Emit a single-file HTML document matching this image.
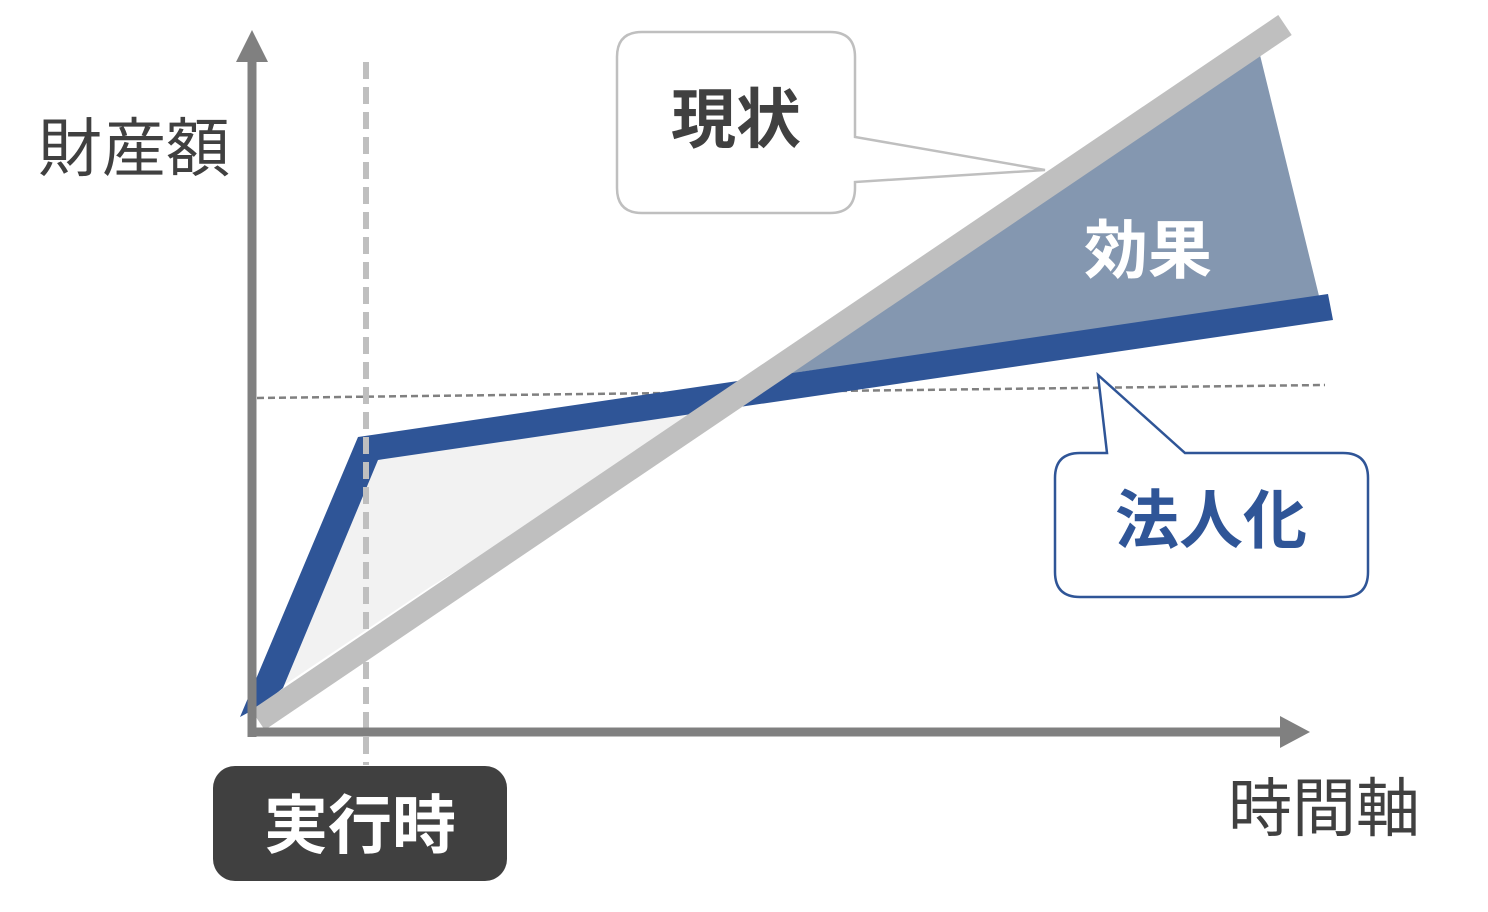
<!DOCTYPE html>
<html><head><meta charset="utf-8"><style>
html,body{margin:0;padding:0;background:#fff;}
svg{display:block;}
text{font-family:"Liberation Sans","Noto Sans CJK JP",sans-serif;}
</style></head><body>
<svg width="1488" height="912" viewBox="0 0 1488 912" xmlns="http://www.w3.org/2000/svg">
<polygon points="268,712 370,455 740,396 430,587 262,700" fill="#f2f2f2"/>
<polygon points="735,392 1260,55 1320,300 800,372" fill="#8497b0"/>
<line x1="257" y1="398" x2="1325" y2="385" stroke="#808080" stroke-width="2.5" stroke-dasharray="7,4"/>
<polygon points="240,717 358,437 1328,294 1333,320 378,460 283,688 262,705" fill="#2f5597"/>
<line x1="366" y1="62" x2="366" y2="765" stroke="#bfbfbf" stroke-width="6" stroke-dasharray="17,8"/>
<line x1="258" y1="720" x2="1285" y2="25" stroke="#bfbfbf" stroke-width="24"/>
<line x1="252" y1="55" x2="252" y2="737" stroke="#808080" stroke-width="9"/>
<polygon points="252,30 236,62 268,62" fill="#808080"/>
<line x1="248" y1="732" x2="1285" y2="732" stroke="#808080" stroke-width="9"/>
<polygon points="1310,732 1280,716 1280,748" fill="#808080"/>
<path d="M642,32 H830 Q855,32 855,57 V137 L1045,170 L855,182 V188 Q855,213 830,213 H642 Q617,213 617,188 V57 Q617,32 642,32 Z" fill="#fff" stroke="#bfbfbf" stroke-width="2.5"/>
<text x="736" y="142" font-size="65" font-weight="bold" fill="#404040" text-anchor="middle">現状</text>
<text x="1148" y="273" font-size="64" font-weight="bold" fill="#fff" text-anchor="middle">効果</text>
<path d="M1080,453 H1107 L1098,375 L1185,453 H1343 Q1368,453 1368,478 V572 Q1368,597 1343,597 H1080 Q1055,597 1055,572 V478 Q1055,453 1080,453 Z" fill="#fff" stroke="#2f5597" stroke-width="2.5"/>
<text x="1211" y="543" font-size="64" font-weight="bold" fill="#2f5597" text-anchor="middle">法人化</text>
<rect x="213" y="766" width="294" height="115" rx="22" fill="#404040"/>
<text x="360" y="848" font-size="64" font-weight="bold" fill="#fff" text-anchor="middle">実行時</text>
<text x="38" y="171" font-size="64" fill="#404040">財産額</text>
<text x="1228" y="831" font-size="64" fill="#404040">時間軸</text>
</svg>
</body></html>
